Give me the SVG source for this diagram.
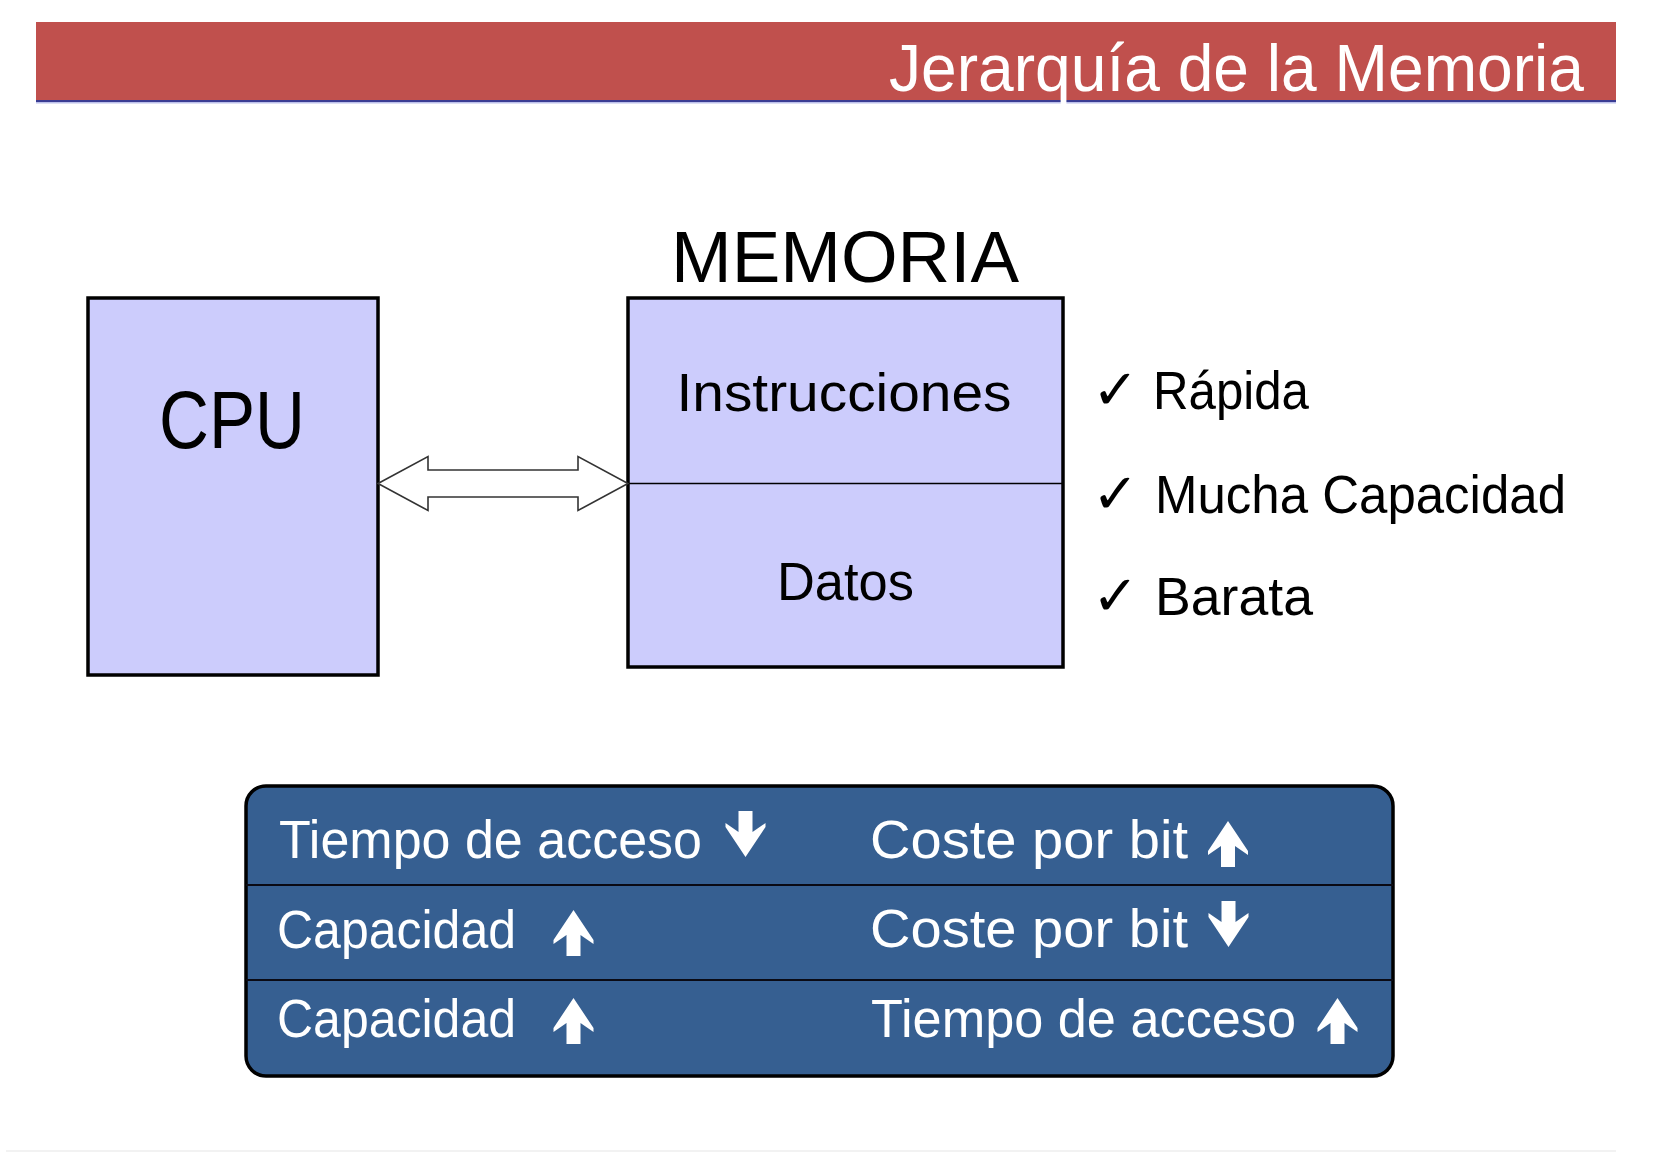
<svg xmlns="http://www.w3.org/2000/svg" xmlns:xlink="http://www.w3.org/1999/xlink" width="1654" height="1152" viewBox="0 0 1654 1152">
<style>
.t{font-family:"Liberation Sans",Arial,sans-serif}
.blk{fill:#000}
.wht{fill:#fff}
.box{fill:#ccccfc;stroke:#000;stroke-width:3.5}
.chk{font-family:"DejaVu Sans",sans-serif;font-size:56px;font-weight:bold}
</style>
<defs>
<path id="up" d="M0,0 L20,30 L20,34 L7,25 L7,46 L-7,46 L-7,25 L-20,34 L-20,30 Z" fill="#fff"/>
</defs>
<g id="header">
<rect x="36" y="22" width="1580" height="78" fill="#c0504d"/>
<rect x="36" y="100" width="1580" height="2" fill="#3a3d93"/>
<rect x="36" y="102" width="1580" height="1.5" fill="#bcc0ea"/>
<text class="t wht" x="1584" y="91" font-size="66" text-anchor="end" textLength="695" lengthAdjust="spacingAndGlyphs">Jerarquía de la Memoria</text>
</g>
<g id="cpu">
<rect class="box" x="88" y="298" width="290" height="377"/>
<text class="t blk" x="232" y="448" font-size="82" text-anchor="middle" textLength="146" lengthAdjust="spacingAndGlyphs">CPU</text>
</g>
<g id="memoria">
<text class="t blk" x="845" y="282" font-size="72" text-anchor="middle" textLength="348" lengthAdjust="spacingAndGlyphs">MEMORIA</text>
<rect class="box" x="628" y="298" width="435" height="369"/>
<line x1="628" y1="483.5" x2="1063" y2="483.5" stroke="#000" stroke-width="1.5"/>
<text class="t blk" x="844" y="410.5" font-size="54" text-anchor="middle" textLength="335" lengthAdjust="spacingAndGlyphs">Instrucciones</text>
<text class="t blk" x="845.5" y="599.5" font-size="54" text-anchor="middle" textLength="137" lengthAdjust="spacingAndGlyphs">Datos</text>
</g>
<g id="caracteristicas">
<text class="t blk" y="408.5" font-size="53"><tspan class="chk" x="1092">✓</tspan><tspan x="1153" textLength="156" lengthAdjust="spacingAndGlyphs">Rápida</tspan></text>
<text class="t blk" y="512.5" font-size="53"><tspan class="chk" x="1092">✓</tspan><tspan x="1155" textLength="411" lengthAdjust="spacingAndGlyphs">Mucha Capacidad</tspan></text>
<text class="t blk" y="614.5" font-size="53"><tspan class="chk" x="1092">✓</tspan><tspan x="1155" textLength="158" lengthAdjust="spacingAndGlyphs">Barata</tspan></text>
</g>
<g id="connectors">
<polygon points="378,483.5 428,456.5 428,470 578,470 578,456.5 628,483.5 578,510.5 578,497 428,497 428,510.5" fill="#fff" stroke="#333" stroke-width="1.6" stroke-linejoin="miter"/>
</g>
<g id="tabla">
<rect x="246" y="786" width="1147" height="290" rx="20" ry="20" fill="#365f91" stroke="#000" stroke-width="3.5"/>
<line x1="246" y1="885" x2="1393" y2="885" stroke="#0a0a14" stroke-width="2"/>
<line x1="246" y1="980" x2="1393" y2="980" stroke="#0a0a14" stroke-width="2"/>
<text class="t wht" x="279" y="858" font-size="53" textLength="423" lengthAdjust="spacingAndGlyphs">Tiempo de acceso</text>
<use xlink:href="#up" transform="translate(745.5,857) scale(1,-1)"/>
<text class="t wht" x="870" y="858" font-size="53" textLength="318" lengthAdjust="spacingAndGlyphs">Coste por bit</text>
<use xlink:href="#up" transform="translate(1228,821)"/>
<text class="t wht" x="277" y="948" font-size="53" textLength="239" lengthAdjust="spacingAndGlyphs">Capacidad</text>
<use xlink:href="#up" transform="translate(573.5,910)"/>
<text class="t wht" x="870" y="947" font-size="53" textLength="318" lengthAdjust="spacingAndGlyphs">Coste por bit</text>
<use xlink:href="#up" transform="translate(1228.5,947) scale(1,-1)"/>
<text class="t wht" x="277" y="1037" font-size="53" textLength="239" lengthAdjust="spacingAndGlyphs">Capacidad</text>
<use xlink:href="#up" transform="translate(573.5,998)"/>
<text class="t wht" x="871" y="1037" font-size="53" textLength="425" lengthAdjust="spacingAndGlyphs">Tiempo de acceso</text>
<use xlink:href="#up" transform="translate(1337.5,998)"/>
</g>
<line x1="6" y1="1151" x2="1616" y2="1151" stroke="#eeeeee" stroke-width="1.5"/>
</svg>
